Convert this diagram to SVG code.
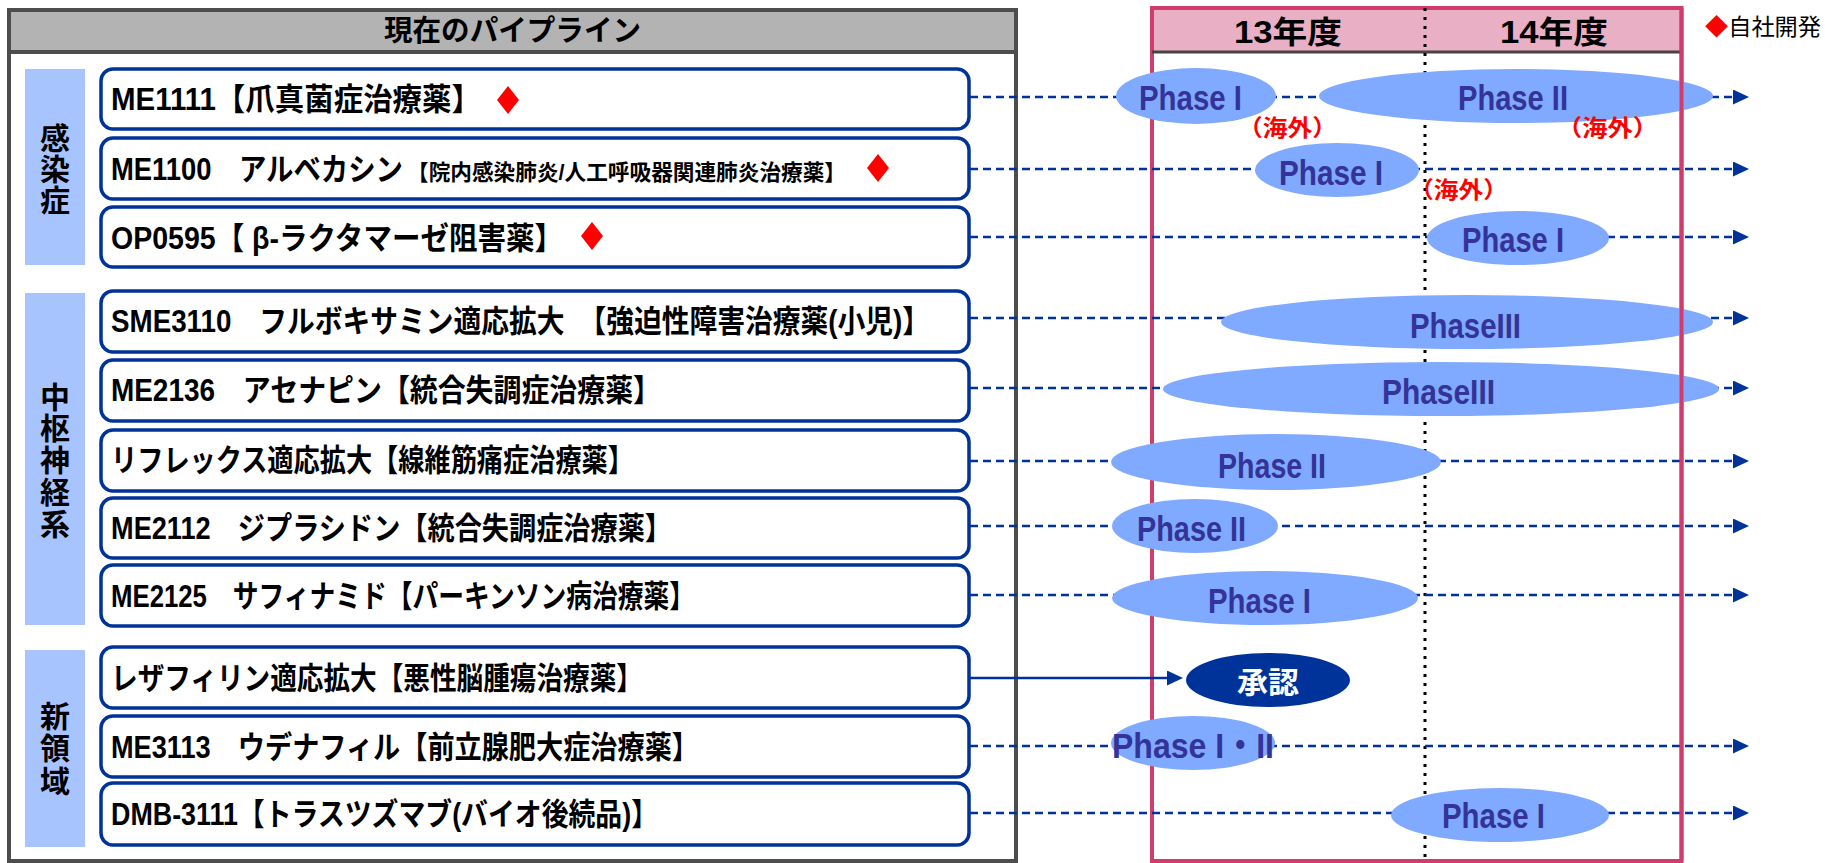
<svg xmlns="http://www.w3.org/2000/svg" width="1825" height="863" viewBox="0 0 1825 863">
<defs>
<style>
text{font-family:"Liberation Sans","Noto Sans CJK JP",sans-serif;font-weight:bold}
.row{fill:#fff;stroke:#003399;stroke-width:3.5}
.rt{font-size:31px;fill:#000}
.cat{fill:#a8c4ff}
.ct{font-size:30px;fill:#000;text-anchor:middle}
.ph{fill:#80aaff}
.pt{font-size:35px;fill:#333399}
.red{font-size:23px;fill:#ff0000}
.dash{stroke:#003399;stroke-width:2.5;stroke-dasharray:8 5;fill:none}
.dia{fill:#ff0000}
.leg{font-weight:normal}
</style>
<marker id="ah" markerUnits="userSpaceOnUse" markerWidth="16" markerHeight="16" refX="2" refY="7.5" orient="auto">
<path d="M0,0 L16,7.5 L0,15 Z" fill="#003399"/>
</marker>
</defs>
<rect width="1825" height="863" fill="#fff"/>

<g id="pipeline-panel">
<rect x="9" y="10" width="1007" height="42" fill="#b3b3b3"/>
<rect x="9" y="10" width="1007" height="851" fill="none" stroke="#4d4d4d" stroke-width="4"/>
<line x1="9" y1="52" x2="1016" y2="52" stroke="#4d4d4d" stroke-width="4"/>
<text x="384" y="41" font-size="29" textLength="257" lengthAdjust="spacingAndGlyphs">現在のパイプライン</text>
</g>

<g id="cat-infection">
<rect class="cat" x="25" y="69" width="60" height="196"/>
<text class="ct"><tspan x="55" y="149">感</tspan><tspan x="55" y="180">染</tspan><tspan x="55" y="211">症</tspan></text>
</g>
<g id="cat-cns">
<rect class="cat" x="25" y="293" width="60" height="332"/>
<text class="ct"><tspan x="55" y="408">中</tspan><tspan x="55" y="439">枢</tspan><tspan x="55" y="471">神</tspan><tspan x="55" y="503">経</tspan><tspan x="55" y="535">系</tspan></text>
</g>
<g id="cat-new">
<rect class="cat" x="25" y="650" width="60" height="197"/>
<text class="ct"><tspan x="55" y="727">新</tspan><tspan x="55" y="759">領</tspan><tspan x="55" y="792">域</tspan></text>
</g>

<g id="row-me1111">
<rect class="row" x="101" y="69" width="868" height="60" rx="12"/>
<text class="rt" x="111" y="110" textLength="370" lengthAdjust="spacingAndGlyphs">ME1111【爪真菌症治療薬】</text>
<polygon class="dia" points="508,86 519,100 508,114 497,100"/>
</g>
<g id="row-me1100">
<rect class="row" x="101" y="138" width="868" height="61" rx="12"/>
<text class="rt" x="111" y="180" textLength="292" lengthAdjust="spacingAndGlyphs">ME1100　アルベカシン</text>
<text x="407" y="180" font-size="22" textLength="439" lengthAdjust="spacingAndGlyphs">【院内感染肺炎/人工呼吸器関連肺炎治療薬】</text>
<polygon class="dia" points="878,154 889,168 878,182 867,168"/>
</g>
<g id="row-op0595">
<rect class="row" x="101" y="207" width="868" height="60" rx="12"/>
<text class="rt" x="111" y="249" textLength="452" lengthAdjust="spacingAndGlyphs">OP0595【 β-ラクタマーゼ阻害薬】</text>
<polygon class="dia" points="592,222 603,236 592,250 581,236"/>
</g>
<g id="row-sme3110">
<rect class="row" x="101" y="291" width="868" height="61" rx="12"/>
<text class="rt" x="111" y="332" textLength="819" lengthAdjust="spacingAndGlyphs">SME3110　フルボキサミン適応拡大　【強迫性障害治療薬(小児)】</text>
</g>
<g id="row-me2136">
<rect class="row" x="101" y="360" width="868" height="61" rx="12"/>
<text class="rt" x="111" y="401" textLength="550" lengthAdjust="spacingAndGlyphs">ME2136　アセナピン【統合失調症治療薬】</text>
</g>
<g id="row-reflex">
<rect class="row" x="101" y="430" width="868" height="61" rx="12"/>
<text class="rt" x="111" y="471" textLength="523" lengthAdjust="spacingAndGlyphs">リフレックス適応拡大【線維筋痛症治療薬】</text>
</g>
<g id="row-me2112">
<rect class="row" x="101" y="498" width="868" height="60" rx="12"/>
<text class="rt" x="111" y="539" textLength="561" lengthAdjust="spacingAndGlyphs">ME2112　ジプラシドン【統合失調症治療薬】</text>
</g>
<g id="row-me2125">
<rect class="row" x="101" y="565" width="868" height="61" rx="12"/>
<text class="rt" x="111" y="607" textLength="584" lengthAdjust="spacingAndGlyphs">ME2125　サフィナミド【パーキンソン病治療薬】</text>
</g>
<g id="row-laserphyrin">
<rect class="row" x="101" y="647" width="868" height="61" rx="12"/>
<text class="rt" x="111" y="689" textLength="532" lengthAdjust="spacingAndGlyphs">レザフィリン適応拡大【悪性脳腫瘍治療薬】</text>
</g>
<g id="row-me3113">
<rect class="row" x="101" y="716" width="868" height="61" rx="12"/>
<text class="rt" x="111" y="758" textLength="588" lengthAdjust="spacingAndGlyphs">ME3113　ウデナフィル【前立腺肥大症治療薬】</text>
</g>
<g id="row-dmb3111">
<rect class="row" x="101" y="783" width="868" height="62" rx="12"/>
<text class="rt" x="111" y="825" textLength="547" lengthAdjust="spacingAndGlyphs">DMB-3111【トラスツズマブ(バイオ後続品)】</text>
</g>

<g id="timeline-panel">
<rect x="1152" y="8" width="529.5" height="44" fill="#e9afc4"/>
<rect x="1152" y="8" width="529.5" height="853" fill="none" stroke="#d23c6c" stroke-width="4"/>
<line x1="1152" y1="52" x2="1681" y2="52" stroke="#444" stroke-width="3"/>
<line x1="1425" y1="8" x2="1425" y2="861" stroke="#000" stroke-width="3" stroke-dasharray="3 6"/>
<text x="1234" y="43" font-size="31" textLength="108" lengthAdjust="spacingAndGlyphs">13年度</text>
<text x="1500" y="43" font-size="31" textLength="108" lengthAdjust="spacingAndGlyphs">14年度</text>
</g>

<g id="legend">
<text class="leg" x="1705" y="35" font-size="23" textLength="116" lengthAdjust="spacingAndGlyphs"><tspan fill="#ff0000">◆</tspan>自社開発</text>
</g>

<g id="connectors">
<line class="dash" x1="970" y1="97" x2="1735" y2="97" marker-end="url(#ah)"/>
<line class="dash" x1="970" y1="169" x2="1735" y2="169" marker-end="url(#ah)"/>
<line class="dash" x1="970" y1="237" x2="1735" y2="237" marker-end="url(#ah)"/>
<line class="dash" x1="970" y1="318" x2="1735" y2="318" marker-end="url(#ah)"/>
<line class="dash" x1="970" y1="388" x2="1735" y2="388" marker-end="url(#ah)"/>
<line class="dash" x1="970" y1="461" x2="1735" y2="461" marker-end="url(#ah)"/>
<line class="dash" x1="970" y1="526" x2="1735" y2="526" marker-end="url(#ah)"/>
<line class="dash" x1="970" y1="595" x2="1735" y2="595" marker-end="url(#ah)"/>
<line x1="970" y1="678" x2="1169" y2="678" stroke="#003399" stroke-width="2.5" marker-end="url(#ah)"/>
<line class="dash" x1="970" y1="746" x2="1735" y2="746" marker-end="url(#ah)"/>
<line class="dash" x1="970" y1="813" x2="1735" y2="813" marker-end="url(#ah)"/>
</g>

<g id="ph-me1111-p1">
<ellipse class="ph" cx="1196" cy="96" rx="80" ry="28"/>
<text class="pt" x="1139" y="110" textLength="103" lengthAdjust="spacingAndGlyphs">Phase I</text>
<text class="red" x="1238" y="136" textLength="99" lengthAdjust="spacingAndGlyphs">（海外）</text>
</g>
<g id="ph-me1111-p2">
<ellipse class="ph" cx="1516" cy="96" rx="197" ry="27"/>
<text class="pt" x="1458" y="110" textLength="110" lengthAdjust="spacingAndGlyphs">Phase II</text>
<text class="red" x="1557" y="136" textLength="101" lengthAdjust="spacingAndGlyphs">（海外）</text>
</g>
<g id="ph-me1100-p1">
<ellipse class="ph" cx="1337" cy="170" rx="82" ry="27"/>
<text class="pt" x="1279" y="185" textLength="104" lengthAdjust="spacingAndGlyphs">Phase I</text>
<text class="red" x="1409" y="198" textLength="99" lengthAdjust="spacingAndGlyphs">（海外）</text>
</g>
<g id="ph-op0595-p1">
<ellipse class="ph" cx="1518" cy="238" rx="91" ry="27"/>
<text class="pt" x="1462" y="252" textLength="102" lengthAdjust="spacingAndGlyphs">Phase I</text>
</g>
<g id="ph-sme3110-p3">
<ellipse class="ph" cx="1467" cy="322" rx="246" ry="27"/>
<text class="pt" x="1410" y="338" textLength="111" lengthAdjust="spacingAndGlyphs">PhaseIII</text>
</g>
<g id="ph-me2136-p3">
<ellipse class="ph" cx="1441" cy="389" rx="278" ry="27"/>
<text class="pt" x="1382" y="404" textLength="113" lengthAdjust="spacingAndGlyphs">PhaseIII</text>
</g>
<g id="ph-reflex-p2">
<ellipse class="ph" cx="1276" cy="462" rx="165" ry="28"/>
<text class="pt" x="1218" y="478" textLength="108" lengthAdjust="spacingAndGlyphs">Phase II</text>
</g>
<g id="ph-me2112-p2">
<ellipse class="ph" cx="1195" cy="526" rx="83" ry="27"/>
<text class="pt" x="1137" y="541" textLength="109" lengthAdjust="spacingAndGlyphs">Phase II</text>
</g>
<g id="ph-me2125-p1">
<ellipse class="ph" cx="1265" cy="598" rx="153" ry="27"/>
<text class="pt" x="1208" y="613" textLength="103" lengthAdjust="spacingAndGlyphs">Phase I</text>
</g>
<g id="approval">
<ellipse cx="1268" cy="680" rx="82" ry="27" fill="#003399"/>
<text x="1268" y="693" font-size="30" fill="#fff" text-anchor="middle" textLength="62" lengthAdjust="spacingAndGlyphs">承認</text>
</g>
<g id="ph-me3113-p12">
<ellipse class="ph" cx="1193" cy="743" rx="82" ry="27"/>
<text class="pt" x="1112" y="758" textLength="162" lengthAdjust="spacingAndGlyphs">Phase I・II</text>
</g>
<g id="ph-dmb3111-p1">
<ellipse class="ph" cx="1500" cy="815" rx="109" ry="27"/>
<text class="pt" x="1442" y="828" textLength="103" lengthAdjust="spacingAndGlyphs">Phase I</text>
</g>

<line x1="1681.5" y1="8" x2="1681.5" y2="861" stroke="#d23c6c" stroke-width="4"/>
</svg>
